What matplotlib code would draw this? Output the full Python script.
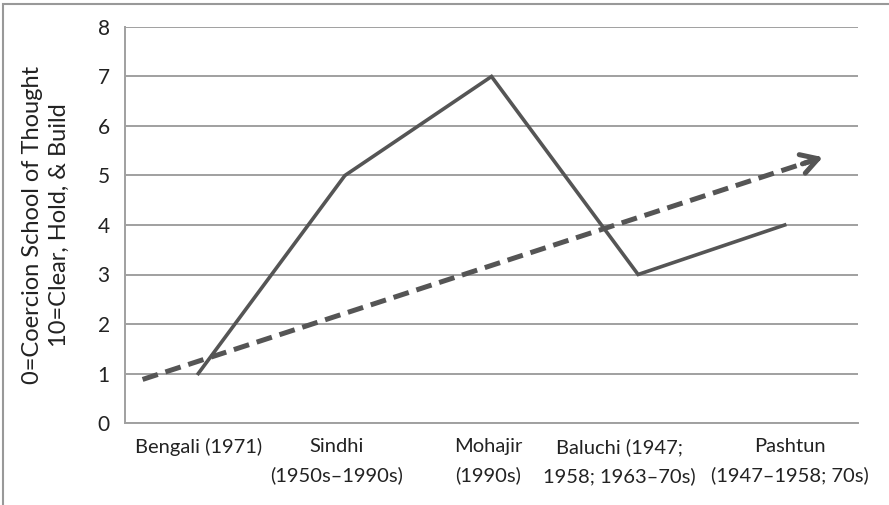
import matplotlib.pyplot as plt
from matplotlib.patches import Rectangle
from matplotlib.transforms import ScaledTranslation

plt.rcParams['font.family'] = ['Lato', 'DejaVu Sans']

groups = ['Bengali (1971)', 'Sindhi\n(1950s\u20131990s)', 'Mohajir\n(1990s)',
          'Baluchi (1947;\n1958; 1963\u201370s)', 'Pashtun\n(1947\u20131958; 70s)']
scores = [1, 5, 7, 3, 4]
# trend arrow, start and tip in category units
trend_x = [-0.38, 4.26]
trend_y = [0.88, 5.37]
y_ticks = [0, 1, 2, 3, 4, 5, 6, 7, 8]

line_col = '#555555'
grid_col = '#a0a0a0'
label_shift_px = [0, -8, -3, -19, 5]  # nudges so the labels don't collide

fig = plt.figure(figsize=(8.89, 5.05), dpi=100)
ax = fig.add_axes([125 / 889, 1 - 423 / 505, 733 / 889, 396 / 505])

x = list(range(len(groups)))
ax.plot(x, scores, color=line_col, lw=2.6, solid_joinstyle='miter', zorder=3)

# dashed trend with arrow head
ax.plot(trend_x, trend_y, color=line_col, lw=3.6, dashes=(3.2, 1.6), zorder=3,
        dash_capstyle='butt')
ax.annotate('', xy=(trend_x[1], trend_y[1]),
            xytext=(trend_x[1] - 0.03 * (trend_x[1] - trend_x[0]),
                    trend_y[1] - 0.03 * (trend_y[1] - trend_y[0])),
            arrowprops=dict(arrowstyle='->,head_length=1.2,head_width=0.7',
                            color=line_col, lw=3.6, shrinkA=0, shrinkB=0),
            zorder=4)

ax.set_xlim(-0.5, len(groups) - 0.5)
ax.set_ylim(0, 8)
ax.set_yticks(y_ticks)
ax.set_xticks(x)
ax.set_xticklabels([])
# category labels drawn by hand so each can be nudged sideways
for xi, name, dx in zip(x, groups, label_shift_px):
    tr = ax.get_xaxis_transform() + ScaledTranslation(dx / 100, -15 / 100, fig.dpi_scale_trans)
    ax.text(xi, 0, name, transform=tr, ha='center', va='top', fontsize=14.5,
            color='#222222', linespacing=1.75)
ax.tick_params(axis='y', labelsize=15, colors='#222222', length=0, pad=11)
ax.tick_params(axis='x', length=0)
ax.yaxis.grid(True, color=grid_col, lw=1.4)
ax.set_axisbelow(True)
for s in ['top', 'right']:
    ax.spines[s].set_visible(False)
for s in ['left', 'bottom']:
    ax.spines[s].set_color(grid_col)
    ax.spines[s].set_linewidth(1.4)

ax.set_ylabel('0=Coercion School of Thought\n10=Clear, Hold, & Build',
              fontsize=17, color='#222222', labelpad=20, linespacing=1.35)

# outer frame (only top and left edges visible in the crop)
fig.patches.append(Rectangle((3 / 889, -0.2), 1.2, 1 - 4 / 505 + 0.2,
                             transform=fig.transFigure, fill=False,
                             edgecolor='#999999', lw=1.5))

fig.savefig('out.png', dpi=100)
